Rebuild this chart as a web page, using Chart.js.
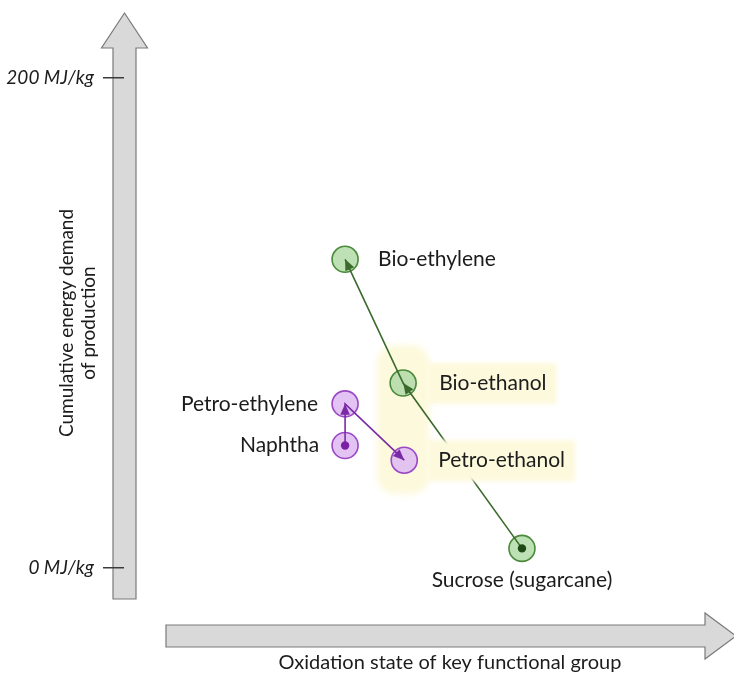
<!DOCTYPE html>
<html><head><meta charset="utf-8">
<script src="https://cdn.jsdelivr.net/npm/chart.js@4/dist/chart.umd.min.js"></script>
<style>html,body{margin:0;padding:0;background:#fff}#wrap{width:734px;height:673px;position:relative}</style>
</head><body><div id="wrap"><canvas id="c" width="734" height="673"></canvas></div>
<script>
// ---- data ----
const pointNames = ['Sucrose (sugarcane)', 'Bio-ethanol', 'Bio-ethylene', 'Naphtha', 'Petro-ethylene', 'Petro-ethanol'];
const oxidationX = [1.2, -0.95, -2, -2, -2, -0.93];
const energyY = [8, 75.5, 126, 50, 67, 44];
const bioPath = ['Sucrose (sugarcane)', 'Bio-ethanol', 'Bio-ethylene'];
const petroPath = ['Naphtha', 'Petro-ethylene', 'Petro-ethanol'];
const yTickValues = [0, 200];
const yTickLabels = ['0 MJ/kg', '200 MJ/kg'];
const yTitle = ['Cumulative energy demand', 'of production'];
const xTitle = 'Oxidation state of key functional group';
const highlighted = ['Bio-ethanol', 'Petro-ethanol'];
const startPoints = ['Sucrose (sugarcane)', 'Naphtha'];

// ---- styles ----
const GREEN_LINE = '#3a6b2c', GREEN_FILL = 'rgba(178,219,168,0.85)', GREEN_BORDER = '#4a8a3a';
const PURPLE_LINE = '#7a2aa6', PURPLE_FILL = 'rgba(224,188,242,0.9)', PURPLE_BORDER = '#9a48c4';
const HL = '#fdf9dc';
const TEXT = '#1c1c1c';
const FONT = 'Lato, "Open Sans", sans-serif';
const labelPlacement = {
  'Bio-ethylene': {align: 'left', dx: 33, dy: 0},
  'Bio-ethanol': {align: 'left', dx: 36, dy: 0},
  'Petro-ethanol': {align: 'left', dx: 34, dy: 0},
  'Petro-ethylene': {align: 'right', dx: -27, dy: 0},
  'Naphtha': {align: 'right', dx: -26, dy: 0},
  'Sucrose (sugarcane)': {align: 'center', dx: 0, dy: 32}
};

function pts(path) {
  return path.map(n => { const i = pointNames.indexOf(n); return {x: oxidationX[i], y: energyY[i], name: n}; });
}

function pos(chart, name) {
  for (const di of [2, 3]) {
    const meta = chart.getDatasetMeta(di);
    const ds = chart.data.datasets[di];
    for (let i = 0; i < ds.data.length; i++) if (ds.data[i].name === name) return meta.data[i];
  }
  return null;
}

function arrowHead(ctx, from, to, color) {
  const a = Math.atan2(to.y - from.y, to.x - from.x);
  const L = 11, W = 4.8;
  ctx.save();
  ctx.fillStyle = color;
  ctx.beginPath();
  ctx.moveTo(to.x, to.y);
  ctx.lineTo(to.x - L * Math.cos(a) + W * Math.sin(a), to.y - L * Math.sin(a) - W * Math.cos(a));
  ctx.lineTo(to.x - L * Math.cos(a) - W * Math.sin(a), to.y - L * Math.sin(a) + W * Math.cos(a));
  ctx.closePath();
  ctx.fill();
  ctx.restore();
}

function roundRect(ctx, x, y, w, h, r) {
  ctx.beginPath();
  ctx.moveTo(x + r, y);
  ctx.arcTo(x + w, y, x + w, y + h, r);
  ctx.arcTo(x + w, y + h, x, y + h, r);
  ctx.arcTo(x, y + h, x, y, r);
  ctx.arcTo(x, y, x + w, y, r);
  ctx.closePath();
}

const decor = {
  id: 'decor',
  beforeDraw(chart) {
    const {ctx, chartArea: ca} = chart;
    ctx.save();
    ctx.fillStyle = '#fff';
    ctx.fillRect(0, 0, chart.width, chart.height);
    ctx.fillStyle = '#d9d9d9';
    ctx.strokeStyle = '#7a7a7a';
    ctx.lineWidth = 1.2;
    ctx.lineJoin = 'miter';
    // vertical arrow
    const cx = ca.left + 0.5;
    const sw = 11.5, hw = 23;
    const tip = ca.top - 65, hb = ca.top - 30, bot = ca.bottom + 31;
    ctx.beginPath();
    ctx.moveTo(cx, tip);
    ctx.lineTo(cx + hw, hb);
    ctx.lineTo(cx + sw, hb);
    ctx.lineTo(cx + sw, bot);
    ctx.lineTo(cx - sw, bot);
    ctx.lineTo(cx - sw, hb);
    ctx.lineTo(cx - hw, hb);
    ctx.closePath();
    ctx.fill(); ctx.stroke();
    // horizontal arrow
    const cy = ca.bottom + 68;
    const left = ca.left + 42, hbx = ca.right - 27, tipx = ca.right + 4;
    ctx.beginPath();
    ctx.moveTo(left, cy - 11);
    ctx.lineTo(hbx, cy - 11);
    ctx.lineTo(hbx, cy - 23);
    ctx.lineTo(tipx, cy);
    ctx.lineTo(hbx, cy + 23);
    ctx.lineTo(hbx, cy + 11);
    ctx.lineTo(left, cy + 11);
    ctx.closePath();
    ctx.fill(); ctx.stroke();
    // x title
    ctx.fillStyle = TEXT;
    ctx.font = '20px ' + FONT;
    ctx.textAlign = 'center';
    ctx.textBaseline = 'middle';
    ctx.fillText(xTitle, (ca.left + ca.right) / 2 + 22, ca.bottom + 95);
    ctx.restore();
  },
  beforeDatasetsDraw(chart) {
    const {ctx} = chart;
    const a = pos(chart, highlighted[0]), b = pos(chart, highlighted[1]);
    if (!a || !b) return;
    ctx.save();
    ctx.filter = 'blur(3px)';
    ctx.fillStyle = HL;
    const x0 = Math.min(a.x, b.x) - 26, x1 = Math.max(a.x, b.x) + 25;
    const y0 = Math.min(a.y, b.y) - 38, y1 = Math.max(a.y, b.y) + 34;
    roundRect(ctx, x0, y0, x1 - x0, y1 - y0, 18);
    ctx.fill();
    ctx.restore();
  },
  afterDatasetsDraw(chart) {
    const {ctx} = chart;
    ctx.save();
    ctx.font = '21px ' + FONT;
    highlighted.forEach(n => {
      const p = pos(chart, n); const lp = labelPlacement[n];
      const w = ctx.measureText(n).width;
      const tx = p.x + lp.dx;
      ctx.save();
      ctx.filter = 'blur(2px)';
      ctx.fillStyle = HL;
      ctx.fillRect(p.x + 24, p.y + lp.dy - 20, (tx + w + 10) - (p.x + 24), 41);
      ctx.restore();
    });
    [[bioPath, GREEN_LINE], [petroPath, PURPLE_LINE]].forEach(([path, col]) => {
      for (let k = 1; k < path.length; k++) arrowHead(ctx, pos(chart, path[k - 1]), pos(chart, path[k]), col);
    });
    startPoints.forEach(n => {
      const p = pos(chart, n);
      ctx.beginPath();
      ctx.arc(p.x, p.y, 4.2, 0, Math.PI * 2);
      ctx.fillStyle = bioPath.includes(n) ? '#1f4a17' : '#7a1fa6';
      ctx.fill();
    });
    ctx.fillStyle = TEXT;
    ctx.textBaseline = 'middle';
    pointNames.forEach(n => {
      const p = pos(chart, n); const lp = labelPlacement[n];
      ctx.textAlign = lp.align;
      ctx.fillText(n, p.x + lp.dx, p.y + lp.dy);
    });
    ctx.restore();
  }
};

Chart.defaults.font.family = FONT;
new Chart(document.getElementById('c'), {
  type: 'scatter',
  data: {
    datasets: [
      {data: pts(bioPath), showLine: true, borderColor: GREEN_LINE, borderWidth: 1.6, pointRadius: 0, fill: false},
      {data: pts(petroPath), showLine: true, borderColor: PURPLE_LINE, borderWidth: 1.6, pointRadius: 0, fill: false},
      {data: pts(bioPath), showLine: false, pointRadius: 13, backgroundColor: GREEN_FILL, borderColor: GREEN_BORDER, borderWidth: 1.6},
      {data: pts(petroPath), showLine: false, pointRadius: 13, backgroundColor: PURPLE_FILL, borderColor: PURPLE_BORDER, borderWidth: 1.6}
    ]
  },
  options: {
    responsive: false,
    animation: false,
    devicePixelRatio: 1,
    events: [],
    layout: {autoPadding: false, padding: {top: 78, bottom: 105, left: 0, right: 2}},
    plugins: {legend: {display: false}, tooltip: {enabled: false}},
    scales: {
      x: {type: 'linear', min: -6, max: 5, display: false},
      y: {
        type: 'linear', min: 0, max: 200,
        afterBuildTicks: s => { s.ticks = yTickValues.map(v => ({value: v})); },
        afterFit: s => { s.width = 124; },
        ticks: {
          callback: v => yTickLabels[yTickValues.indexOf(v)],
          font: {size: 19, style: 'italic', family: FONT},
          color: TEXT, padding: 9
        },
        grid: {display: true, drawOnChartArea: false, drawTicks: true, tickLength: 21, color: '#3a3a3a', lineWidth: 1.5},
        border: {display: false},
        title: {display: true, text: yTitle, color: TEXT, font: {size: 19, family: FONT, lineHeight: 1.2}, padding: {top: 55, bottom: 0}}
      }
    }
  },
  plugins: [decor]
});
</script>
</body></html>
